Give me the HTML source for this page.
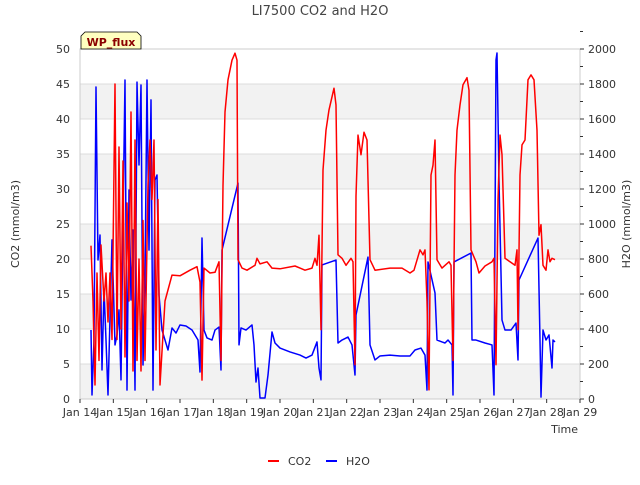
<!DOCTYPE html>
<html><head><meta charset="utf-8"><style>
body{margin:0;background:#fff;}
svg{font-family:"DejaVu Sans","Liberation Sans",sans-serif;}
</style></head><body>
<svg id="chart" width="640" height="480" viewBox="0 0 640 480">
<text x="320" y="15" text-anchor="middle" font-size="13" fill="#444">LI7500 CO2 and H2O</text>
<g id="bands"></g><g id="grid"></g>
<rect x="80" y="49" width="500" height="350" fill="none" stroke="#ccc"/>
<g id="series"></g><g id="axes"></g>
<g>
<path d="M81,49 L81,36 L85,32 L137,32 L141,36 L141,49 Z" fill="#ffffc0" stroke="#000" stroke-width="0.8"/>
<text x="111" y="46" text-anchor="middle" font-size="11" font-weight="bold" fill="#8b0000">WP_flux</text></g>
<text transform="translate(19,224) rotate(-90)" text-anchor="middle" font-size="11" fill="#333">CO2 (mmol/m3)</text>
<text transform="translate(630,224) rotate(-90)" text-anchor="middle" font-size="11" fill="#333">H2O (mmol/m3)</text>
<text x="578" y="433" text-anchor="end" font-size="11" fill="#333">Time</text>
<g>
<g><line x1="268" y1="461" x2="279" y2="461" stroke="#f00" stroke-width="2"/><text x="288" y="465" font-size="11" fill="#333">CO2</text></g>
<g><line x1="326" y1="461" x2="337" y2="461" stroke="#00f" stroke-width="2"/><text x="346" y="465" font-size="11" fill="#333">H2O</text></g>
</g>
</svg>
<script>
const xTickLabels=["Jan 14","Jan 15","Jan 16","Jan 17","Jan 18","Jan 19","Jan 20","Jan 21","Jan 22","Jan 23","Jan 24","Jan 25","Jan 26","Jan 27","Jan 28","Jan 29"];
const leftTicks=[0,5,10,15,20,25,30,35,40,45,50];
const rightTicks=[0,200,400,600,800,1000,1200,1400,1600,1800,2000];
const co2Days=[0.33,0.39,0.45,0.51,0.57,0.63,0.72,0.78,0.84,0.9,0.96,1.05,1.11,1.17,1.23,1.29,1.35,1.41,1.47,1.53,1.59,1.65,1.71,1.77,1.83,1.89,1.95,2.04,2.1,2.16,2.22,2.28,2.34,2.4,2.55,2.76,3.0,3.3,3.51,3.6,3.66,3.72,3.9,4.05,4.17,4.23,4.26,4.29,4.35,4.44,4.56,4.65,4.71,4.74,4.86,5.01,5.25,5.31,5.4,5.61,5.76,6.0,6.45,6.6,6.75,6.96,7.05,7.11,7.17,7.23,7.29,7.38,7.47,7.62,7.68,7.74,7.86,7.98,8.13,8.19,8.25,8.28,8.34,8.43,8.52,8.61,8.7,8.85,9.3,9.66,9.9,10.02,10.2,10.29,10.35,10.41,10.47,10.53,10.59,10.65,10.71,10.86,11.07,11.13,11.19,11.25,11.31,11.4,11.49,11.61,11.67,11.73,11.88,11.97,12.15,12.36,12.42,12.48,12.54,12.6,12.66,12.75,12.9,13.05,13.11,13.14,13.2,13.26,13.35,13.44,13.53,13.62,13.71,13.77,13.83,13.89,13.98,14.04,14.1,14.16,14.25];
const co2Values=[21.9,14,2,18,5.5,22,14,18,11,18,8.5,45,8.5,36,10,34,6,28,14,41,4,37,5.5,20,4,25.5,5.5,30.5,37,28.5,37,7,28.5,2,14,17.7,17.6,18.4,18.9,16.7,2.7,18.7,18,18.1,19.6,5.5,18.4,30.5,41,45.6,48.4,49.4,48.4,19.9,18.7,18.4,19.1,20.1,19.3,19.6,18.7,18.6,19,18.7,18.4,18.7,20.1,19.1,23.4,9.9,32.7,38.4,41.3,44.4,42,20.6,20.1,19.1,20.1,19.6,4.9,29,37.7,34.9,38.1,37,19.9,18.4,18.7,18.7,18,18.4,21.3,20.6,21.3,14,1.3,32,33.4,37,19.9,18.7,19.6,19.1,5.5,32,38.4,42,44.9,45.9,44.1,21.3,19.6,18,19,19.6,20.1,4.9,28.4,37.7,34.9,20.1,19.6,19.1,21.3,9.9,32,36.3,37,45.6,46.3,45.6,38.4,23.4,24.9,19.1,18.4,21.3,19.6,20.1,19.9];
const h2oDays=[0.33,0.36,0.42,0.48,0.54,0.6,0.66,0.72,0.78,0.84,0.96,1.05,1.11,1.17,1.23,1.29,1.35,1.41,1.47,1.53,1.59,1.65,1.71,1.77,1.83,1.89,1.95,2.01,2.07,2.13,2.19,2.25,2.31,2.37,2.46,2.64,2.76,2.88,3.0,3.18,3.36,3.54,3.6,3.66,3.72,3.81,3.96,4.05,4.17,4.23,4.26,4.74,4.77,4.83,4.98,5.16,5.22,5.28,5.34,5.4,5.55,5.64,5.76,5.85,6.0,6.3,6.6,6.78,6.96,7.11,7.17,7.23,7.26,7.68,7.74,7.86,8.04,8.16,8.25,8.28,8.64,8.7,8.85,9.0,9.3,9.6,9.9,10.05,10.23,10.35,10.41,10.44,10.65,10.71,10.86,10.95,11.04,11.16,11.19,11.22,11.73,11.76,11.88,12.15,12.36,12.42,12.48,12.51,12.57,12.66,12.75,12.93,13.08,13.14,13.17,13.74,13.8,13.83,13.89,13.98,14.07,14.16,14.19,14.25];
const h2oValues=[394,23,337,1783,794,937,166,623,337,23,909,309,366,509,109,1023,1823,51,1194,566,966,51,1811,1337,1794,194,680,1823,851,1709,51,1251,1280,594,394,280,406,377,423,417,394,337,154,920,394,349,337,394,411,166,851,1234,309,406,394,423,309,97,177,6,6,137,383,320,291,269,251,234,251,326,177,109,766,794,320,337,354,309,137,480,811,309,223,246,251,246,246,280,291,251,51,783,606,337,326,320,337,309,23,783,834,337,337,320,309,23,1937,1977,1251,451,394,394,434,223,680,920,337,11,394,337,366,177,337,326];

const NS='http://www.w3.org/2000/svg';
const X0=80,X1=580,Y0=399,Y1=49;
const xs=d=>X0+d*(X1-X0)/15;
const yL=v=>Y0-v*(Y0-Y1)/50;
const yR=v=>Y0-v*(Y0-Y1)/2000;
function mk(tag,attrs,parent){const e=document.createElementNS(NS,tag);for(const k in attrs)e.setAttribute(k,attrs[k]);document.getElementById(parent).appendChild(e);return e;}
for(let i=0;i<10;i+=2){
  const r=mk('rect',{x:X0,y:yL(leftTicks[i+1]),width:X1-X0,height:yL(leftTicks[i])-yL(leftTicks[i+1]),fill:'#f2f2f2'},'bands');
  
  
}
leftTicks.forEach(v=>{
  const l=mk('line',{x1:X0,x2:X1,y1:yL(v),y2:yL(v),stroke:'#dcdcdc'},'grid');
  
  
  const t=mk('text',{x:X0-10,y:yL(v)+4,'text-anchor':'end','font-size':11,fill:'#333'},'axes');
  t.textContent=v;
  
  
});
rightTicks.forEach(v=>{
  mk('line',{x1:X1,x2:X1+4,y1:yR(v),y2:yR(v),stroke:'#333'},'axes');
  mk('line',{x1:X1,x2:X1+3,y1:yR(v+100),y2:yR(v+100),stroke:'#333'},'axes');
  const t=mk('text',{x:X1+8,y:yR(v)+4,'font-size':11,fill:'#333'},'axes');
  t.textContent=v;
  
  
});
xTickLabels.forEach((s,i)=>{
  mk('line',{x1:xs(i),x2:xs(i),y1:Y0,y2:Y0+4,stroke:'#333'},'axes');
  const t=mk('text',{x:xs(i),y:416,'text-anchor':'middle','font-size':11,fill:'#333'},'axes');
  t.textContent=s;
  
  
});
const p1=mk('polyline',{points:h2oDays.map((d,i)=>xs(d)+','+yR(h2oValues[i])).join(' '),fill:'none',stroke:'#00f','stroke-width':1.5,'stroke-linejoin':'round'},'series');


const p2=mk('polyline',{points:co2Days.map((d,i)=>xs(d)+','+yL(co2Values[i])).join(' '),fill:'none',stroke:'#f00','stroke-width':1.5,'stroke-linejoin':'round'},'series');


</script>
</body></html>
